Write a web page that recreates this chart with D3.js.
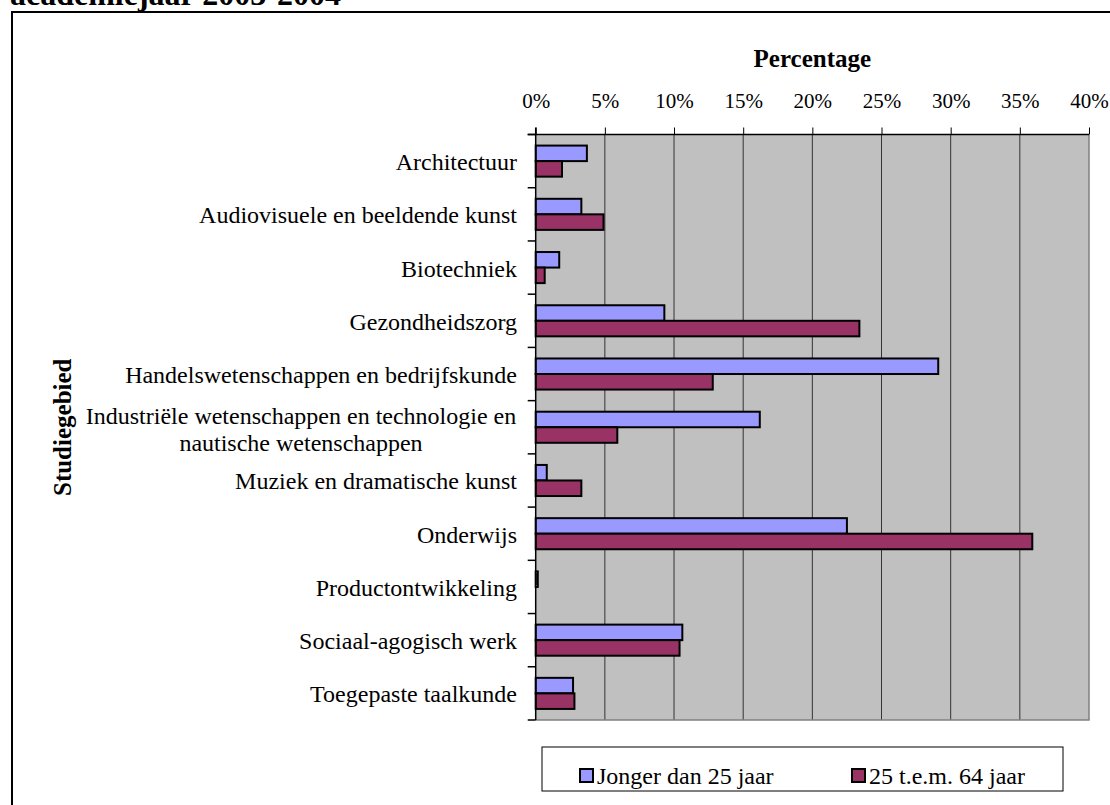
<!DOCTYPE html>
<html lang="nl">
<head>
<meta charset="UTF-8">
<title>Studiegebied</title>
<script src="https://d3js.org/d3.v7.min.js"></script>
<style>
  body { margin: 0; background: #fff; }
  text { font-family: "Liberation Serif", "Times New Roman", serif; }
</style>
</head>
<body>
<div id="chart"></div>
<script>
    var width = 1110;
    var height = 805;

    // data (percent)
    var categories = [
        "Architectuur",
        "Audiovisuele en beeldende kunst",
        "Biotechniek",
        "Gezondheidszorg",
        "Handelswetenschappen en bedrijfskunde",
        "Industriële wetenschappen en technologie en|nautische wetenschappen",
        "Muziek en dramatische kunst",
        "Onderwijs",
        "Productontwikkeling",
        "Sociaal-agogisch werk",
        "Toegepaste taalkunde"
    ];
    var seriesNames = ["Jonger dan 25 jaar", "25 t.e.m. 64 jaar"];
    var jonger = [3.7, 3.3, 1.7, 9.3, 29.1, 16.2, 0.8, 22.5, 0.15, 10.6, 2.7];
    var ouder = [1.9, 4.9, 0.65, 23.4, 12.8, 5.9, 3.3, 35.9, 0, 10.4, 2.8];
    var xTicks = [0, 5, 10, 15, 20, 25, 30, 35, 40];
    var colors = ["#9999ff", "#993366"];

    var plot = {left: 535.7, right: 1089, top: 134.5, bottom: 720};

    var svg = d3.select("#chart")
        .append("svg")
        .attr("width", width)
        .attr("height", height);

    // title, cut off at the top of the page
    svg.append("text")
        .attr("x", 10)
        .attr("y", 5)
        .attr("font-size", "32px")
        .attr("font-weight", "bold")
        .text("academiejaar 2003-2004");

    // outer frame
    svg.append("rect")
        .attr("x", 12)
        .attr("y", 12)
        .attr("width", 1200)
        .attr("height", 900)
        .attr("fill", "none")
        .attr("stroke", "black")
        .attr("stroke-width", 2);

    var x = d3.scaleLinear()
        .domain([0, 40])
        .range([plot.left, plot.right]);

    var y = d3.scaleBand()
        .domain(categories)
        .range([plot.top, plot.bottom])
        .paddingInner(0.416)
        .paddingOuter(0.208);

    var ySub = d3.scaleBand()
        .domain([0, 1])
        .range([0, y.bandwidth()]);

    var step = y.step();

    // plot background
    svg.append("rect")
        .attr("x", plot.left)
        .attr("y", plot.top)
        .attr("width", plot.right - plot.left)
        .attr("height", plot.bottom - plot.top)
        .attr("fill", "#c0c0c0");

    // vertical gridlines
    svg.append("g")
        .selectAll("line")
        .data(xTicks.slice(1, -1))
        .enter()
        .append("line")
        .attr("x1", function(d) { return x(d); })
        .attr("x2", function(d) { return x(d); })
        .attr("y1", plot.top)
        .attr("y2", plot.bottom)
        .attr("stroke", "#333")
        .attr("stroke-width", 1);

    // right and bottom edges of the plot area
    svg.append("path")
        .attr("d", "M" + plot.right + "," + plot.top + "V" + plot.bottom + "H" + plot.left)
        .attr("fill", "none")
        .attr("stroke", "#808080")
        .attr("stroke-width", 1.5);

    // bars
    var rows = categories.map(function(c, i) {
        return {cat: c, values: [jonger[i], ouder[i]]};
    });

    var groups = svg.append("g")
        .selectAll("g")
        .data(rows)
        .enter()
        .append("g")
        .attr("transform", function(d) { return "translate(0," + y(d.cat) + ")"; });

    groups.selectAll("rect")
        .data(function(d) { return d.values.map(function(v, k) { return {v: v, k: k}; }); })
        .enter()
        .filter(function(d) { return d.v > 0; })
        .append("rect")
        .attr("x", x(0))
        .attr("y", function(d) { return ySub(d.k); })
        .attr("width", function(d) { return x(d.v) - x(0); })
        .attr("height", ySub.bandwidth())
        .attr("fill", function(d) { return colors[d.k]; })
        .attr("stroke", "black")
        .attr("stroke-width", 2);

    // top axis with percentage labels
    var xAxis = d3.axisTop(x)
        .tickValues(xTicks)
        .tickSize(7)
        .tickPadding(20)
        .tickFormat(function(d) { return d + "%"; });

    var gx = svg.append("g")
        .attr("transform", "translate(0," + plot.top + ")")
        .call(xAxis);
    gx.select(".domain").remove();
    gx.selectAll(".tick line").attr("stroke", "black");
    gx.selectAll(".tick text")
        .attr("font-size", "21px")
        .attr("font-family", "Liberation Serif, Times New Roman, serif")
        .attr("fill", "black");

    svg.append("line")
        .attr("x1", plot.left - 8)
        .attr("x2", plot.right)
        .attr("y1", plot.top)
        .attr("y2", plot.top)
        .attr("stroke", "black")
        .attr("stroke-width", 1.5);

    // left axis: ticks on category boundaries
    var boundaries = d3.range(categories.length + 1);
    svg.append("g")
        .selectAll("line")
        .data(boundaries)
        .enter()
        .append("line")
        .attr("x1", plot.left - 8)
        .attr("x2", plot.left)
        .attr("y1", function(d) { return plot.top + d * step; })
        .attr("y2", function(d) { return plot.top + d * step; })
        .attr("stroke", "black")
        .attr("stroke-width", 1.5);

    svg.append("line")
        .attr("x1", plot.left)
        .attr("x2", plot.left)
        .attr("y1", plot.top - 7)
        .attr("y2", plot.bottom)
        .attr("stroke", "black")
        .attr("stroke-width", 1.5);

    // category labels
    svg.append("g")
        .selectAll("text")
        .data(categories)
        .enter()
        .append("text")
        .attr("font-size", "24px")
        .each(function(d) {
            var lines = d.split("|");
            var t = d3.select(this);
            var cy = y(d) + y.bandwidth() / 2;
            if (lines.length === 1) {
                t.attr("x", 517).attr("y", cy + 9).attr("text-anchor", "end").text(d);
            } else {
                t.attr("text-anchor", "middle");
                lines.forEach(function(l, i) {
                    t.append("tspan")
                        .attr("x", 301)
                        .attr("y", cy - 3 + i * 27)
                        .text(l);
                });
            }
        });

    // axis titles
    svg.append("text")
        .attr("x", (plot.left + plot.right) / 2)
        .attr("y", 67)
        .attr("text-anchor", "middle")
        .attr("font-size", "25px")
        .attr("font-weight", "bold")
        .text("Percentage");

    svg.append("text")
        .attr("transform", "translate(71," + ((plot.top + plot.bottom) / 2) + ") rotate(-90)")
        .attr("text-anchor", "middle")
        .attr("font-size", "25px")
        .attr("font-weight", "bold")
        .text("Studiegebied");

    // legend
    var legend = svg.append("g");
    legend.append("rect")
        .attr("x", 542)
        .attr("y", 747)
        .attr("width", 521)
        .attr("height", 44)
        .attr("fill", "white")
        .attr("stroke", "black")
        .attr("stroke-width", 1);

    var legendX = [580, 852];
    seriesNames.forEach(function(name, i) {
        legend.append("rect")
            .attr("x", legendX[i])
            .attr("y", 769)
            .attr("width", 13)
            .attr("height", 13)
            .attr("fill", colors[i])
            .attr("stroke", "black")
            .attr("stroke-width", 2);
        legend.append("text")
            .attr("x", legendX[i] + 17)
            .attr("y", 784)
            .attr("font-size", "24px")
            .text(name);
    });
</script>
</body>
</html>
